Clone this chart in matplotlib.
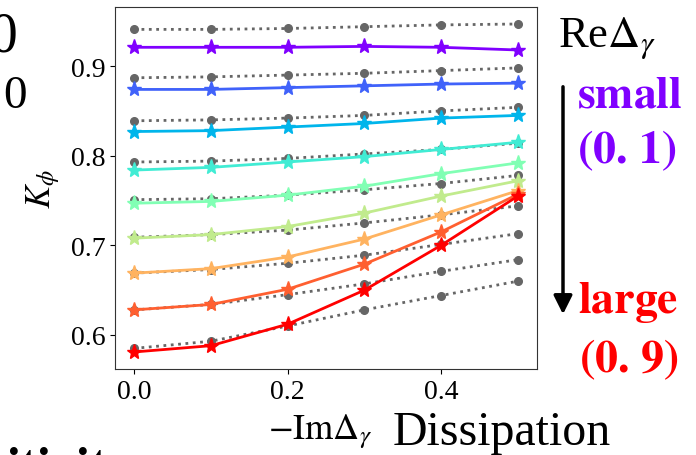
import numpy as np
import matplotlib.pyplot as plt

plt.rcParams['font.family'] = ['Liberation Serif', 'DejaVu Serif']
plt.rcParams['mathtext.fontset'] = 'stix'

# -Im Delta_gamma values
dissipation = [0.0, 0.1, 0.2, 0.3, 0.4, 0.5]

# K_phi with Re Delta_gamma = 0.1 ... 0.9 (stars)
k_star = [
    [0.921, 0.921, 0.921, 0.922, 0.921, 0.918],
    [0.874, 0.874, 0.876, 0.878, 0.880, 0.881],
    [0.827, 0.828, 0.832, 0.836, 0.842, 0.845],
    [0.784, 0.787, 0.793, 0.799, 0.807, 0.815],
    [0.747, 0.749, 0.756, 0.766, 0.780, 0.792],
    [0.708, 0.712, 0.721, 0.736, 0.755, 0.772],
    [0.669, 0.674, 0.687, 0.707, 0.734, 0.761],
    [0.628, 0.634, 0.651, 0.679, 0.715, 0.757],
    [0.581, 0.588, 0.612, 0.650, 0.700, 0.755],
]

# reference curves (grey dots)
k_ref = [
    [0.941, 0.941, 0.942, 0.944, 0.946, 0.947],
    [0.887, 0.888, 0.890, 0.892, 0.895, 0.898],
    [0.839, 0.840, 0.842, 0.845, 0.850, 0.854],
    [0.793, 0.794, 0.797, 0.802, 0.807, 0.814],
    [0.751, 0.752, 0.756, 0.762, 0.769, 0.778],
    [0.709, 0.712, 0.717, 0.725, 0.734, 0.744],
    [0.669, 0.673, 0.680, 0.689, 0.701, 0.713],
    [0.628, 0.634, 0.645, 0.657, 0.671, 0.684],
    [0.585, 0.593, 0.610, 0.628, 0.644, 0.660],
]

fig = plt.figure(figsize=(6.96, 4.56), dpi=100)
ax = fig.add_axes([0.1652, 0.1886, 0.6064, 0.7939])

colors = plt.cm.rainbow(np.linspace(0, 1, len(k_star)))

for ref in k_ref:
    ax.plot(dissipation, ref, ':', color='#666666', lw=2, marker='o', ms=5.5)

for i, ks in enumerate(k_star):
    ax.plot(dissipation, ks, '-', color=colors[i], lw=2, marker='*', ms=11)

ax.set_xlim(-0.025, 0.525)
ax.set_ylim(0.562, 0.966)
ax.set_xticks([0.0, 0.2, 0.4])
ax.set_yticks([0.6, 0.7, 0.8, 0.9])
ax.tick_params(labelsize=20)
for s in ax.spines.values():
    s.set_color('#333333')
ax.set_ylabel(r'$K_\phi$', fontsize=25, labelpad=6)

# x label in two sizes
fig.text(0.385, 0.036, r'$-\mathrm{Im}\Delta_\gamma$', fontsize=26, ha='left', va='baseline')
fig.text(0.564, 0.024, 'Dissipation', fontsize=34.5, ha='left', va='baseline')

# right side legend text
fig.text(0.802, 0.897, r'Re$\Delta_\gamma$', fontsize=32, ha='left', va='baseline')
fig.text(0.829, 0.765, r'$\mathbf{small}$', fontsize=33, color='#8000ff', va='baseline')
fig.text(0.829, 0.6425, r'$\mathbf{(0.\,1)}$', fontsize=33, color='#8000ff', va='baseline')
fig.text(0.830, 0.3136, r'$\mathbf{large}$', fontsize=33, color='red', va='baseline')
fig.text(0.832, 0.184, r'$\mathbf{(0.\,9)}$', fontsize=33, color='red', va='baseline')
ax.annotate('', xy=(563, 456 - 318), xytext=(563, 456 - 85), xycoords='figure pixels',
            arrowprops=dict(arrowstyle='-|>', lw=2.5, color='k', mutation_scale=28))

# pieces of neighbouring panels
fig.text(0.026, 0.886, '0', fontsize=40, ha='right', va='baseline')
fig.text(0.0388, 0.763, '0', fontsize=34, ha='right', va='baseline')
fig.text(0.008, -0.057, r'$\mathbf{itivity}$', fontsize=36, ha='left', va='baseline')

fig.savefig('out.png', dpi=100)
